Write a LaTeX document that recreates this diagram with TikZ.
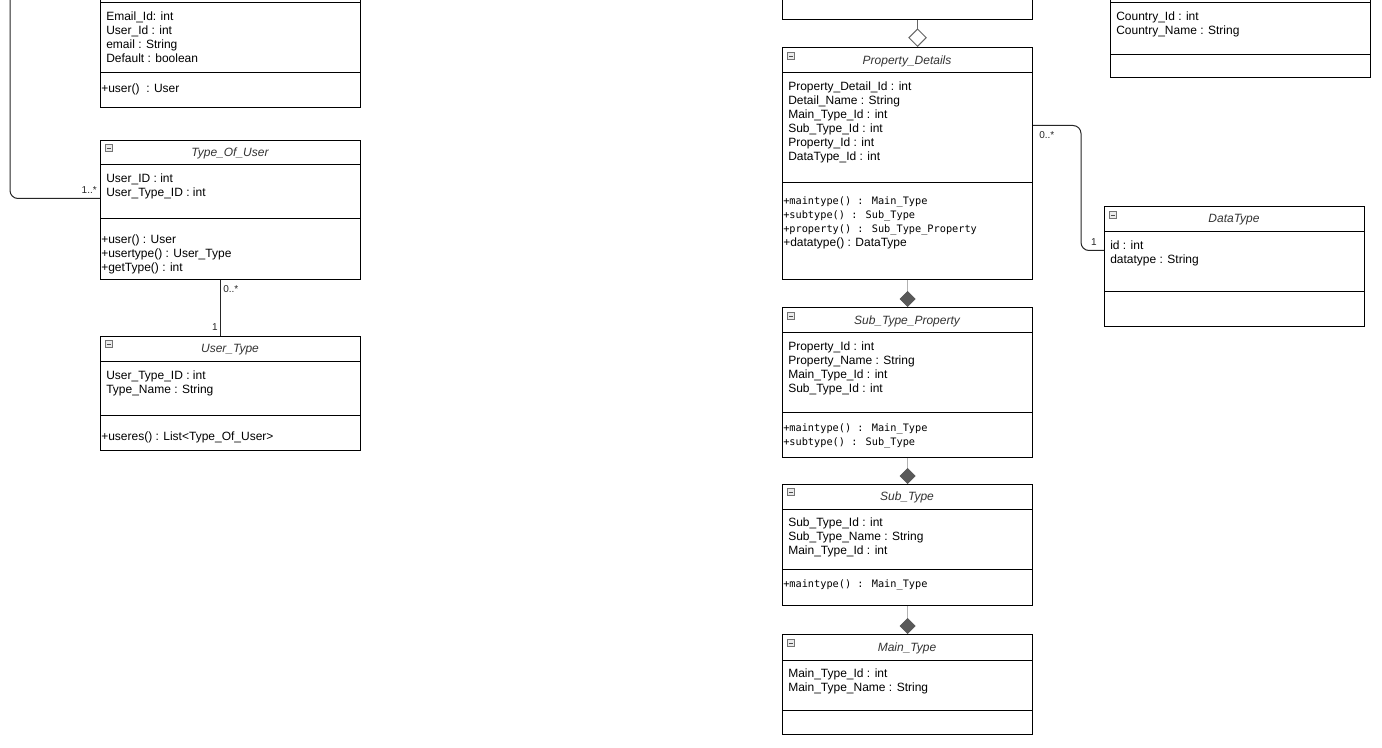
\documentclass[tikz,border=0pt]{standalone}
\usepackage{fontspec}
\setmainfont{Liberation Sans}
\newfontfamily\codefont{DejaVu Sans Mono}
\usetikzlibrary{arrows.meta}
\tikzset{
  cls/.style={draw, line width=0.75pt, anchor=north west, inner sep=0pt, minimum width=195pt},
  ctitle/.style={font=\fontsize{9}{10.5}\selectfont\itshape, text=black!80, inner sep=0pt},
  cattr/.style={anchor=north west, inner sep=0pt, align=left, font=\fontsize{9}{10.5}\selectfont},
  cmeth/.style={cattr, font=\fontsize{7.7}{10.5}\codefont},
  mult/.style={font=\fontsize{7.5}{9}\selectfont, inner sep=0pt, text=black!85},
  icon/.style={draw=black!55, fill=black!8, line width=0.5pt, minimum size=5.5pt, inner sep=0pt,
    path picture={\draw[black!70, line width=0.6pt] ([xshift=1.2pt]path picture bounding box.west) -- ([xshift=-1.2pt]path picture bounding box.east);}},
  conn/.style={draw=black!85, line width=0.75pt},
  agg/.style={draw=black!60, line width=0.75pt, -{Diamond[open, length=14pt, width=14pt]}},
  comp/.style={draw=black!30, line width=0.75pt, -{Diamond[color=black!65, fill=black!65, length=12pt, width=12pt]}}
}
\begin{document}
\begin{tikzpicture}[x=0.75pt,y=-0.75pt]
  \useasboundingbox (0,0) rectangle (1382,748);
  \fill[white] (0,0) rectangle (1382,748);
  \clip (0,0) rectangle (1382,748);

  % left column
  \node[cls, minimum height=97.5pt] (email) at (100,-23) {};
  \node[cattr] at (106,11.5) {Email\_Id: int\\User\_Id : int\\email : String\\Default : boolean};
  \node[cattr] at (101,83.5) {+user()\ \ : User};

  \node[cls, minimum height=104.25pt] (tou) at (100,140) {};
  \node[icon] (touicon) at (109,148) {};
  \node[ctitle] (toutitle) at (230,153) {Type\_Of\_User};
  \node[cattr] at (106,173.5) {User\_ID : int\\User\_Type\_ID : int};
  \node[cattr] at (101,235) {+user() : User\\+usertype() : User\_Type\\+getType() : int};

  \node[cls, minimum height=85.5pt] (ut) at (100,336) {};
  \node[icon] (uticon) at (109,344) {};
  \node[ctitle] (uttitle) at (230,350) {User\_Type};
  \node[cattr] at (106,370.5) {User\_Type\_ID : int\\Type\_Name : String};
  \node[cattr] at (101,432) {+useres() : List<Type\_Of\_User>};

  % right column
  \node[cls, minimum width=187.5pt, minimum height=59.25pt] (toprt) at (782,-60) {};

  \node[cls, minimum width=187.5pt, minimum height=174pt] (ptd) at (782,47) {};
  \node[icon] (ptdicon) at (791,56) {};
  \node[ctitle] (ptdtitle) at (907,61) {Property\_Details};
  \node[cattr] at (788,82) {Property\_Detail\_Id : int\\Detail\_Name : String\\Main\_Type\_Id : int\\Sub\_Type\_Id : int\\Property\_Id : int\\DataType\_Id : int};
  \node[cmeth] at (783,196.5) {+maintype() : Main\_Type\\+subtype() : Sub\_Type\\+property() : Sub\_Type\_Property\\{\rmfamily\fontsize{9}{10.5}\selectfont +datatype() : DataType}};

  \node[cls, minimum width=187.5pt, minimum height=112.5pt] (stp) at (782,307) {};
  \node[icon] (stpicon) at (791,316) {};
  \node[ctitle] (stptitle) at (907,321) {Sub\_Type\_Property};
  \node[cattr] at (788,342) {Property\_Id : int\\Property\_Name : String\\Main\_Type\_Id : int\\Sub\_Type\_Id : int};
  \node[cmeth] at (783,423.5) {+maintype() : Main\_Type\\+subtype() : Sub\_Type};

  \node[cls, minimum width=187.5pt, minimum height=90.75pt] (st) at (782,484) {};
  \node[icon] (sticon) at (791,492) {};
  \node[ctitle] (sttitle) at (907,497) {Sub\_Type};
  \node[cattr] at (788,518) {Sub\_Type\_Id : int\\Sub\_Type\_Name : String\\Main\_Type\_Id : int};
  \node[cmeth] at (783,579.5) {+maintype() : Main\_Type};

  \node[cls, minimum width=187.5pt, minimum height=75pt] (mt) at (782,634) {};
  \node[icon] (mticon) at (791,643) {};
  \node[ctitle] (mttitle) at (907,648) {Main\_Type};
  \node[cattr] at (788,669) {Main\_Type\_Id : int\\Main\_Type\_Name : String};

  % far right
  \node[cls, minimum height=75pt] (cntry) at (1110,-23) {};
  \node[cattr] at (1116,12) {Country\_Id : int\\Country\_Name : String};

  \node[cls, minimum height=90pt] (dt) at (1104,206) {};
  \node[icon] (dticon) at (1113,215) {};
  \node[ctitle] (dttitle) at (1234,220) {DataType};
  \node[cattr] at (1110,241) {id : int\\datatype : String};

  % compartment lines
  \foreach \c/\y in {email/3,email/73,tou/165,tou/219,ut/362,ut/416,ptd/73,ptd/183,stp/333,stp/413,st/509,st/569,mt/660,mt/710,cntry/3,cntry/55,dt/232,dt/292}
    \draw[line width=0.75pt] (\c.west |- 0,\y) -- (\c.east |- 0,\y);

  % connectors
  \coordinate (ucut) at (10,-5);
  \draw[conn, rounded corners=6pt] (ucut) |- ([yshift=8.625pt]tou.west);
  \node[mult, anchor=east] (m1) at (97,190) {1..*};

  \draw[conn] ([xshift=-7.5pt]tou.south) -- ([xshift=-7.5pt]ut.north);
  \node[mult, anchor=west] (m2) at (223,289) {0..*};
  \node[mult] (m3) at (215,327) {1};

  \draw[agg] ([xshift=7.5pt]toprt.south) -- ([xshift=7.5pt]ptd.north);
  \draw[comp] (ptd.south) -- (stp.north);
  \draw[comp] (stp.south) -- (st.north);
  \draw[comp] (st.south) -- (mt.north);

  \draw[conn, rounded corners=6pt] ([yshift=28.5pt]ptd.east) -- ++(48,0) |- ([yshift=12pt]dt.west);
  \node[mult, anchor=west] (m4) at (1039,135) {0..*};
  \node[mult] (m5) at (1094,242) {1};
\end{tikzpicture}
\end{document}
